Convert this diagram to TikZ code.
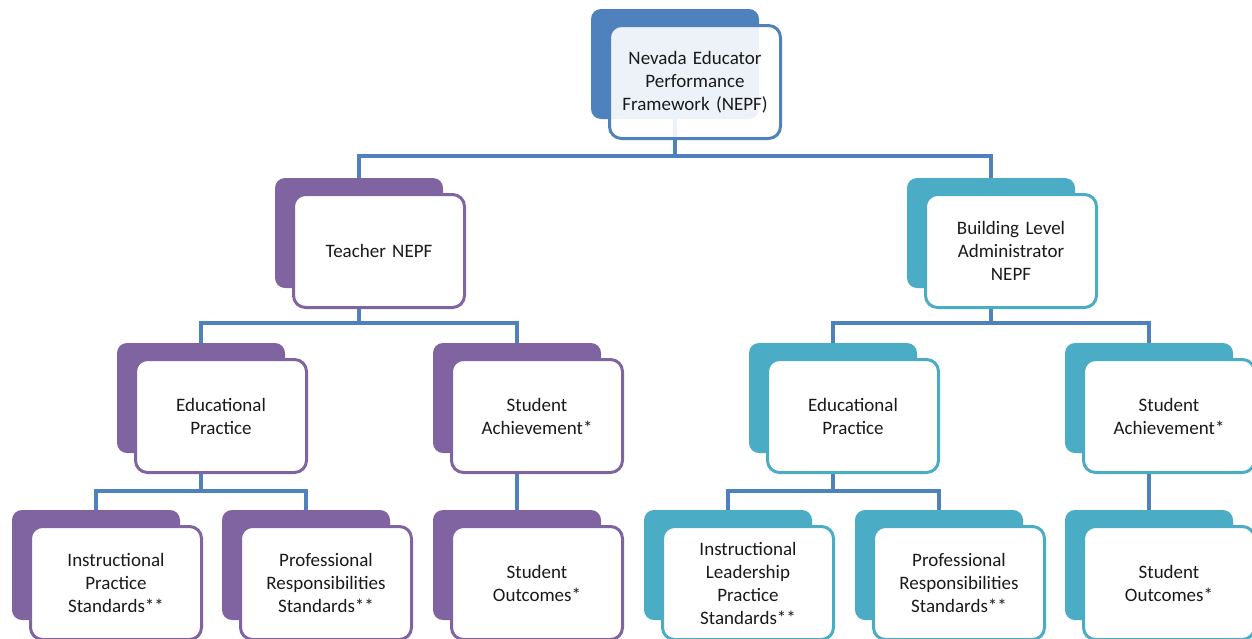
\documentclass[tikz,border=0pt]{standalone}
\usepackage{fontspec}
\setmainfont{Carlito}
\definecolor{nblue}{HTML}{4F81BD}
\definecolor{npurple}{HTML}{8064A2}
\definecolor{naqua}{HTML}{4BACC6}
\definecolor{ntext}{HTML}{1A1A1A}
\pgfdeclarelayer{bg}\pgfsetlayers{bg,main}
\tikzset{
 backbox/.style={rounded corners=10pt, minimum width=168pt, minimum height=110pt, inner sep=0pt, draw=none},
 frontbox/.style={rounded corners=12pt, minimum width=171pt, minimum height=113pt, inner sep=0pt, line width=3pt, fill=white, align=center, text=ntext, font=\fontsize{19}{23}\selectfont, text width=165pt},
 conn/.style={draw=nblue, line width=3.5pt},
}
\newcommand\nbox[6][]{%
 \begin{pgfonlayer}{bg}\node[backbox, fill=#5] (#2b) at ({#3+84},{#4+55}) {};\end{pgfonlayer}
 \node[frontbox, draw=#5, #1] (#2) at ({#3+104},{#4+73}) {#6};}
\begin{document}
\begin{tikzpicture}[x=1pt,y=-1pt]
\useasboundingbox (0,0) rectangle (1252,638);
\nbox[fill=white, fill opacity=0.9, text opacity=1]{top}{591}{9}{nblue}{Nevada Educator\\Performance\\Framework (NEPF)}
\nbox{teach}{275}{178}{npurple}{Teacher NEPF}
\nbox{bld}{907}{178}{naqua}{Building Level\\Administrator\\NEPF}
\nbox{edt}{117}{343}{npurple}{Educational\\Practice}
\nbox{sat}{433}{343}{npurple}{Student\\Achievement*}
\nbox{eda}{749}{343}{naqua}{Educational\\Practice}
\nbox{saa}{1065}{343}{naqua}{Student\\Achievement*}
\nbox{ips}{12}{510}{npurple}{Instructional\\Practice\\Standards**}
\nbox{prt}{222}{510}{npurple}{Professional\\Responsibilities\\Standards**}
\nbox{sot}{433}{510}{npurple}{Student\\Outcomes*}
\nbox{ilp}{644}{510}{naqua}{Instructional\\Leadership\\Practice\\Standards**}
\nbox{pra}{855}{510}{naqua}{Professional\\Responsibilities\\Standards**}
\nbox{soa}{1065}{510}{naqua}{Student\\Outcomes*}
\coordinate (bus1) at (0,156);
\coordinate (bus2) at (0,323);
\coordinate (bus3) at (0,491);
\begin{pgfonlayer}{bg}
\draw[conn] (topb.south) -- (topb.south |- bus1) -| (teachb.north);
\draw[conn] (topb.south |- bus1) -| (bldb.north);
\draw[conn] (teachb.south) -- (teachb.south |- bus2) -| (edtb.north);
\draw[conn] (teachb.south |- bus2) -| (satb.north);
\draw[conn] (bldb.south) -- (bldb.south |- bus2) -| (edab.north);
\draw[conn] (bldb.south |- bus2) -| (saab.north);
\draw[conn] (edtb.south) -- (edtb.south |- bus3) -| (ipsb.north);
\draw[conn] (edtb.south |- bus3) -| (prtb.north);
\draw[conn] (satb.south) -- (sotb.north);
\draw[conn] (edab.south) -- (edab.south |- bus3) -| (ilpb.north);
\draw[conn] (edab.south |- bus3) -| (prab.north);
\draw[conn] (saab.south) -- (soab.north);
\end{pgfonlayer}
\end{tikzpicture}
\end{document}
